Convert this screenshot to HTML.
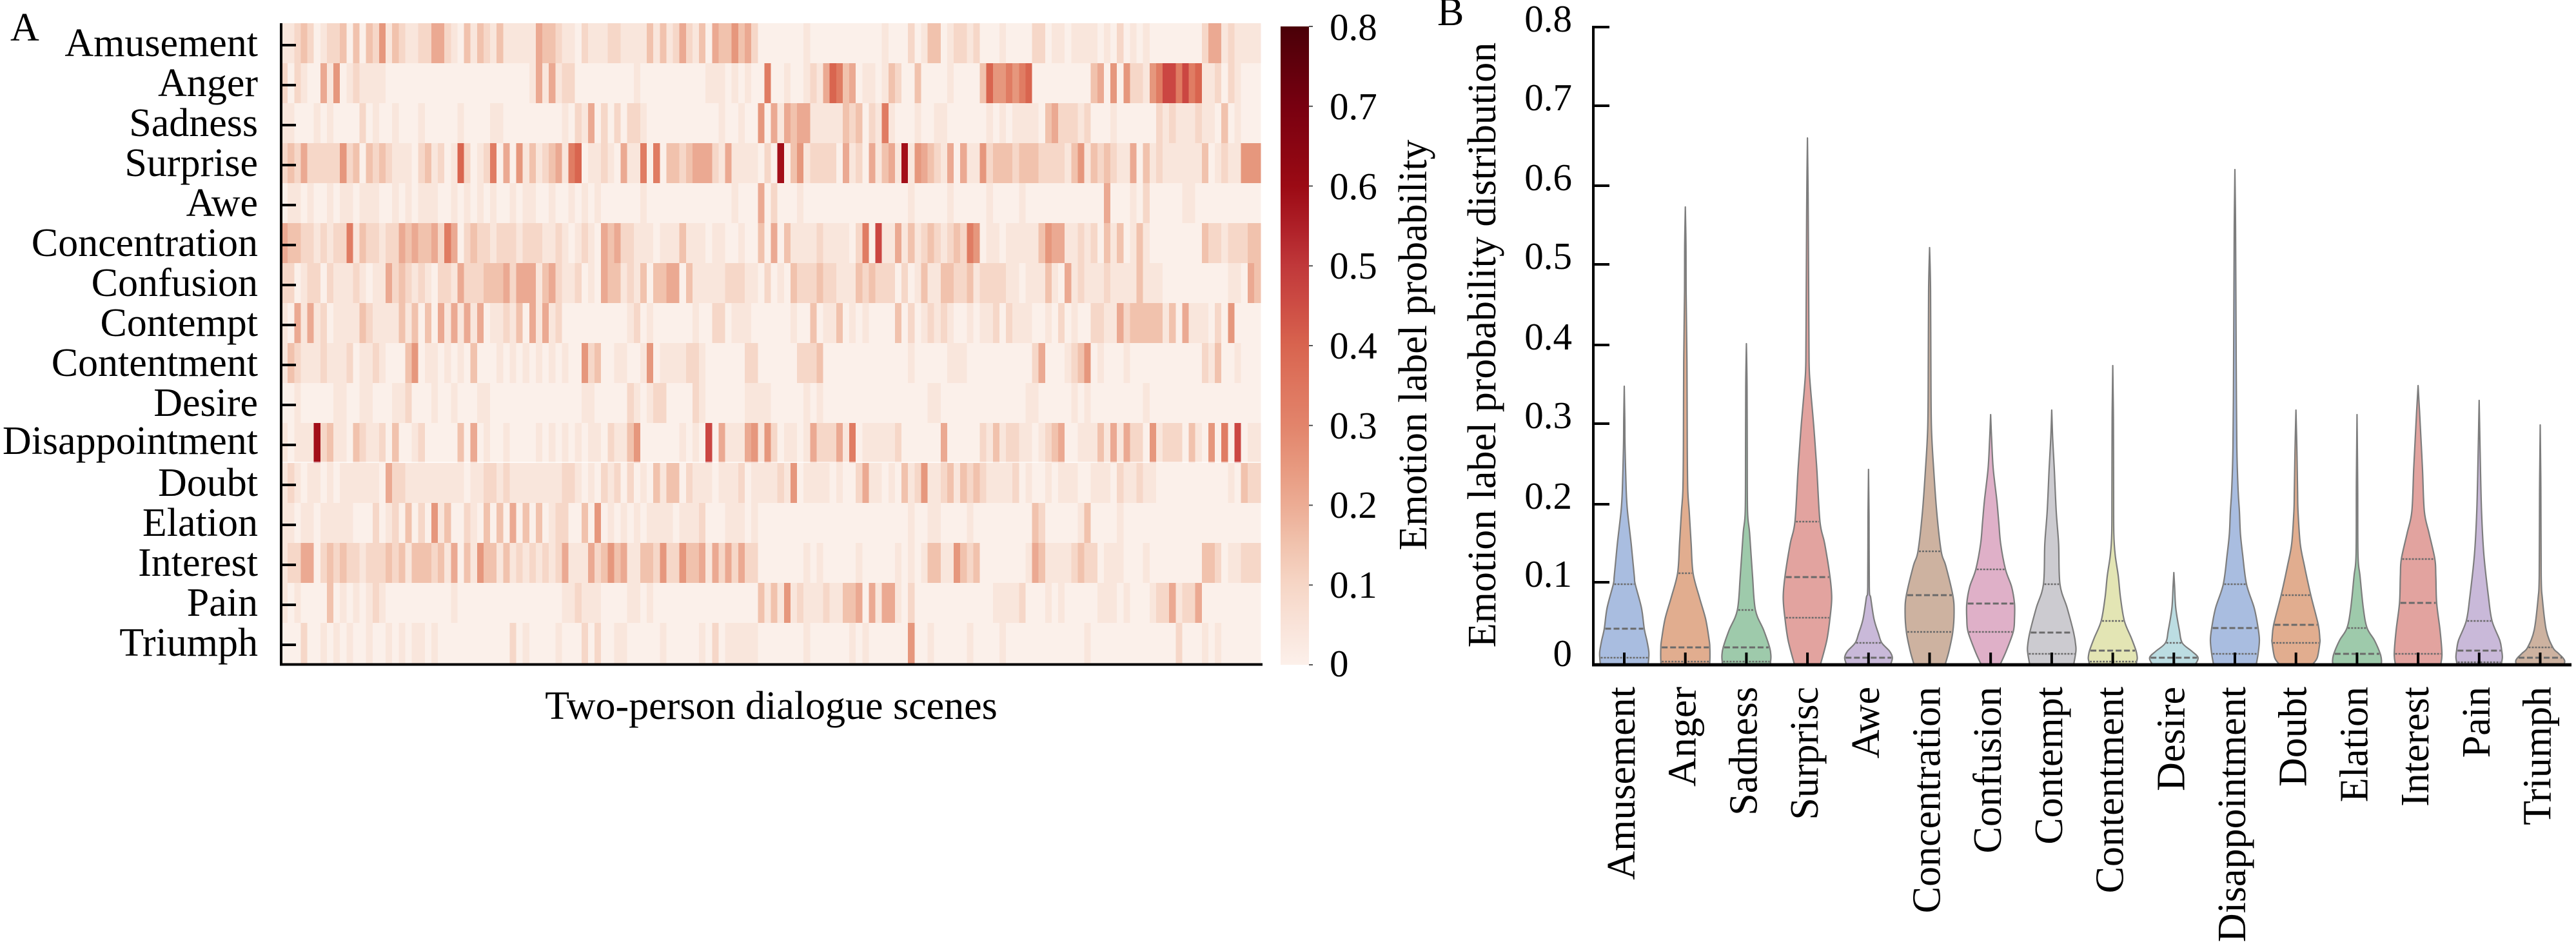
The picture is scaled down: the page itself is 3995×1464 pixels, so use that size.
<!DOCTYPE html>
<html><head><meta charset="utf-8"><style>
html,body{margin:0;padding:0;background:#fff;}
svg{display:block;}
text{font-family:"Liberation Serif","Times New Roman",serif;fill:#000;}
</style></head><body>
<svg id="s" xmlns="http://www.w3.org/2000/svg" width="3995" height="1464" viewBox="0 0 3995 1464">
<defs>
<linearGradient id="cb" x1="0" y1="1" x2="0" y2="0">
<stop offset="0" stop-color="#fcf0ea"/>
<stop offset="0.0625" stop-color="#f9e3d9"/>
<stop offset="0.125" stop-color="#f6d6c6"/>
<stop offset="0.1875" stop-color="#f1c3ae"/>
<stop offset="0.25" stop-color="#ecac94"/>
<stop offset="0.3125" stop-color="#e7987e"/>
<stop offset="0.375" stop-color="#e2846b"/>
<stop offset="0.4375" stop-color="#de755e"/>
<stop offset="0.5" stop-color="#d8644f"/>
<stop offset="0.5625" stop-color="#cd4d44"/>
<stop offset="0.625" stop-color="#c0383a"/>
<stop offset="0.6875" stop-color="#ae1f27"/>
<stop offset="0.75" stop-color="#9b0a14"/>
<stop offset="0.875" stop-color="#780010"/>
<stop offset="1" stop-color="#4a0008"/>
</linearGradient>
</defs>

<!-- Panel A heatmap -->
<g id="hm" shape-rendering="crispEdges"></g>
<line x1="436" y1="717" x2="1955" y2="717" stroke="#ffffff" stroke-width="1.5" opacity="0.85"/>
<g id="hmticks" stroke="#000" stroke-width="4"></g>
<line x1="436" y1="36" x2="436" y2="1032" stroke="#000" stroke-width="4"/>
<line x1="434" y1="1030.5" x2="1958" y2="1030.5" stroke="#000" stroke-width="4"/>

<text x="16" y="63" font-size="62">A</text>
<g font-size="62" text-anchor="end">
<text x="400" y="87">Amusement</text>
<text x="400" y="149">Anger</text>
<text x="400" y="211">Sadness</text>
<text x="400" y="273">Surprise</text>
<text x="400" y="335">Awe</text>
<text x="400" y="397">Concentration</text>
<text x="400" y="459">Confusion</text>
<text x="400" y="521">Contempt</text>
<text x="400" y="583">Contentment</text>
<text x="400" y="645">Desire</text>
<text x="400" y="704">Disappointment</text>
<text x="400" y="769">Doubt</text>
<text x="400" y="831">Elation</text>
<text x="400" y="893">Interest</text>
<text x="400" y="955">Pain</text>
<text x="400" y="1017">Triumph</text>
</g>
<text x="1196" y="1115" font-size="62" text-anchor="middle">Two-person dialogue scenes</text>

<!-- colorbar -->
<rect x="1986" y="41" width="44" height="990" fill="url(#cb)"/>
<g stroke="#555" stroke-width="2">
<line x1="2030" y1="1031" x2="2036" y2="1031"/>
<line x1="2030" y1="907.3" x2="2036" y2="907.3"/>
<line x1="2030" y1="783.5" x2="2036" y2="783.5"/>
<line x1="2030" y1="659.8" x2="2036" y2="659.8"/>
<line x1="2030" y1="536" x2="2036" y2="536"/>
<line x1="2030" y1="412.3" x2="2036" y2="412.3"/>
<line x1="2030" y1="288.5" x2="2036" y2="288.5"/>
<line x1="2030" y1="164.8" x2="2036" y2="164.8"/>
<line x1="2030" y1="41" x2="2036" y2="41"/>
</g>
<g font-size="59">
<text x="2062" y="1049">0</text>
<text x="2062" y="927">0.1</text>
<text x="2062" y="803">0.2</text>
<text x="2062" y="680">0.3</text>
<text x="2062" y="556">0.4</text>
<text x="2062" y="432">0.5</text>
<text x="2062" y="309">0.6</text>
<text x="2062" y="185">0.7</text>
<text x="2062" y="62">0.8</text>
</g>
<text transform="translate(2212,535) rotate(-90)" font-size="62" text-anchor="middle">Emotion label probability</text>

<!-- Panel B violins -->
<text x="2229" y="39" font-size="62">B</text>
<text transform="translate(2319,535) rotate(-90)" font-size="62" text-anchor="middle">Emotion label probability distribution</text>
<g id="vio"></g>
<g font-size="59" text-anchor="end">
<text x="2438" y="1033">0</text>
<text x="2438" y="910">0.1</text>
<text x="2438" y="789">0.2</text>
<text x="2438" y="664">0.3</text>
<text x="2438" y="542">0.4</text>
<text x="2438" y="417">0.5</text>
<text x="2438" y="295">0.6</text>
<text x="2438" y="171">0.7</text>
<text x="2438" y="49">0.8</text>
</g>
<g stroke="#000" stroke-width="4">
<line x1="2471" y1="903" x2="2496" y2="903"/>
<line x1="2471" y1="782" x2="2496" y2="782"/>
<line x1="2471" y1="657" x2="2496" y2="657"/>
<line x1="2471" y1="535" x2="2496" y2="535"/>
<line x1="2471" y1="410" x2="2496" y2="410"/>
<line x1="2471" y1="288" x2="2496" y2="288"/>
<line x1="2471" y1="164" x2="2496" y2="164"/>
<line x1="2471" y1="42" x2="2496" y2="42"/>
</g>
<g id="vticks" stroke="#000" stroke-width="4"></g>
<line x1="2471" y1="40" x2="2471" y2="1033" stroke="#000" stroke-width="4"/>
<line x1="2469" y1="1031" x2="3988" y2="1031" stroke="#000" stroke-width="5"/>
<g font-size="62" text-anchor="end">
<text transform="translate(2535,1065) rotate(-90)">Amusement</text>
<text transform="translate(2629.7,1065) rotate(-90)">Anger</text>
<text transform="translate(2724.4,1065) rotate(-90)">Sadness</text>
<text transform="translate(2819.1,1065) rotate(-90)">Surprisc</text>
<text transform="translate(2913.8,1065) rotate(-90)">Awe</text>
<text transform="translate(3008.5,1065) rotate(-90)">Concentration</text>
<text transform="translate(3103.2,1065) rotate(-90)">Confusion</text>
<text transform="translate(3197.9,1065) rotate(-90)">Contempt</text>
<text transform="translate(3292.6,1065) rotate(-90)">Contentment</text>
<text transform="translate(3387.3,1065) rotate(-90)">Desire</text>
<text transform="translate(3482,1065) rotate(-90)">Disappointment</text>
<text transform="translate(3576.7,1065) rotate(-90)">Doubt</text>
<text transform="translate(3671.4,1065) rotate(-90)">Elation</text>
<text transform="translate(3766.1,1065) rotate(-90)">Interest</text>
<text transform="translate(3860.8,1065) rotate(-90)">Pain</text>
<text transform="translate(3955.5,1065) rotate(-90)">Triumph</text>
</g>
</svg>
<script>
(function(){
var NS="http://www.w3.org/2000/svg";
function el(tag,attrs,parent){var e=document.createElementNS(NS,tag);for(var k in attrs)e.setAttribute(k,attrs[k]);parent.appendChild(e);return e;}
var R=[
["1123201223","0303251321","1224421031","3213111114","33211021112","2111131312","4213043353","4200000001","0000000000","0100020133","0122120001","0000220110","1111010201","0100000000","244121111"],
["2021004150","1211110000","0000000000","0000000014","14122000000","0001000000","0000111010","1006001001","2147634011","0132003000","0100003755","6567000000","0003405052","2156886867","112021000"],
["1100010100","0020100100","0100000100","0011000000","00010214020","2022100000","0000001001","0050414344","1111132302","1610001001","1000000101","0111103422","2120001000","0002121112","110301000"],
["2324222225","2303232111","0231201720","1260405131","23416701121","0411606033","2344421411","1102090351","2222041204","1341915432","1404115233","3233322221","3513232114","0312111111","301211555"],
["0110100101","1011100101","0111001010","1010010110","01001010100","0000100000","0000000010","0040200010","0000000000","0000010000","0100000100","0010000000","0000040001","0200000110","000000000"],
["4332212122","6132212243","4334264023","2212221222","11210121043","4221110111","3111011001","0030403111","1211110260","8114131232","1232650110","1111135441","1212031301","3100000000","322122233"],
["2201220211","1210114232","1210221422","2333424441","34211201043","3121303344","0311111222","1102010322","2322111323","2220201311","3322312222","1101113104","1211121111","3111000000","000011043"],
["1041412011","1132111131","3030414141","4011213041","41200000000","0012010000","0010022011","1000000100","3011301010","0003020121","2100101120","2111001020","1002211423","3333130411","102050000"],
["1321112111","2011210003","5011010103","0001010101","01010052300","1100150111","1221000000","2200000022","2300000000","0000010000","0111000000","0000240001","2350100010","0000000000","213001000"],
["0010000011","0011000112","0001001000","1100000000","00000011000","0021012200","0021000000","1111000001","0100000000","0000000011","0000000000","0001100000","1010000000","0100000000","000000000"],
["1011192311","0321120300","1200000304","0100100001","01010101102","1135000000","1010804111","4515201101","4222416011","1112000000","4000002131","2211012340","0111314142","2051222031","050608011"],
["1210110101","1111104221","1111111101","1221211111","11122101021","2020103133","0211101112","0111121501","1110100241","1010312511","2313232111","1201001011","1001110211","2110000000","000010322"],
["1101101111","1000201203","0205130021","0303040303","01220030501","0101011110","1112000111","0100000000","0000000000","0000010011","0000100000","0000320000","0130000100","0000000000","000000000"],
["1224402323","2212223231","3332314031","5331312121","21241114235","3411332522","5334142424","2200000001","0100000100","0001010133","1153230000","0001431111","2322011100","0100000000","332011222"],
["1010000301","0101210000","0000001000","0000000000","00011211100","0011010000","0000000000","0031315121","1121133404","1441020000","0000000011","1120001010","0000111010","0012241224","000000000"],
["0002001010","1001001010","1101000000","0000020100","00100020200","1100000100","0001020111","1100000001","0000001010","0000050010","0000100001","0000000000","0010000000","0000002000","101000000"]
];
var C=["#fbf0ea","#f9e6dc","#f6d7c8","#f1c2ad","#eba992","#e6977d","#e07c63","#d9654f","#cb4642","#a30f19"];
var hm=document.getElementById("hm");
var x0=436,X1=1955,y0=36,h=62;
for(var i=0;i<R.length;i++){
  var r=R[i].join("");var n=r.length;var w=(X1-x0)/n;
  for(var j=0;j<n;j++){
    el("rect",{x:(x0+j*w).toFixed(2),y:y0+i*h,width:(w+0.7).toFixed(2),height:h+0.6,fill:C[+r[j]]},hm);
  }
}
var ht=document.getElementById("hmticks");
for(var i=0;i<16;i++){var ty=70+62*i;el("line",{x1:436,y1:ty,x2:459,y2:ty},ht);}

var V=[
{c:"#a9bde0",p:[[599,0],[650,0.8],[693,1.2],[760,3],[793,5],[843,10.7],[893,15.5],[906,17],[943,26.7],[975,31],[993,35],[1010,38],[1020,38],[1031,37]],q:[906,975,1020]},
{c:"#e1ad8f",p:[[321,0],[380,1],[450,1.2],[560,2.5],[693,3],[760,3.8],[793,6],[843,9],[889,12],[927,22],[960,31.5],[993,37],[1004,38],[1026,38],[1031,37]],q:[889,1004,1026]},
{c:"#9ecaab",p:[[533,0],[600,1],[700,1.3],[793,1.8],[827,5],[893,9.5],[946,14],[977,26.7],[1004,36],[1017,38],[1026,37.5],[1031,37]],q:[946,1004,1026]},
{c:"#e2a39f",p:[[214,0],[300,1],[380,1.5],[473,2],[560,2.5],[593,4],[660,9.7],[727,14.5],[809,19.4],[843,26.7],[895,35],[927,37.6],[958,35],[993,30],[1031,20]],q:[809,895,958]},
{c:"#c9b9d9",p:[[728,0],[800,0.8],[910,1.2],[927,3.4],[960,8.5],[983,15.5],[997,20.6],[1010,32.7],[1020,37],[1031,34]],q:[997,1020]},
{c:"#cdb2a0",p:[[384,0],[450,1.5],[560,2],[660,2.8],[727,6.3],[793,11],[855,18],[877,25],[923,36],[950,38],[980,36],[1010,30],[1031,24]],q:[855,923,980]},
{c:"#dfb0c8",p:[[643,0],[680,1.5],[727,4],[777,9.7],[810,12.6],[843,15.5],[883,23],[910,32.5],[936,37],[960,37],[980,35],[1010,24],[1031,14.5]],q:[883,936,980]},
{c:"#cccbd0",p:[[636,0],[680,1.5],[727,4],[793,7],[843,10.7],[906,12.8],[943,24],[981,34],[1003,37.5],[1014,37],[1031,34]],q:[906,981,1014]},
{c:"#e3e5b4",p:[[567,0],[650,1],[760,1.3],[827,1.6],[860,3.7],[893,8.5],[927,12],[963,18],[990,29],[1009,36],[1020,38],[1026,37],[1031,36]],q:[963,1009,1026]},
{c:"#bcdde2",p:[[888,0],[910,1.2],[943,3],[977,8.5],[997,13],[1010,28],[1020,37.6],[1031,33]],q:[997,1020]},
{c:"#a9bde0",p:[[263,0],[350,1],[450,1.5],[560,2],[693,3],[760,5],[793,7],[827,8.5],[860,12],[906,18],[943,30],[974,36],[993,38],[1014,36],[1031,33]],q:[906,974,1014]},
{c:"#e1ad8f",p:[[636,0],[700,1.5],[760,2.5],[793,3.2],[843,6.6],[877,13],[923,23],[969,34.6],[990,37],[997,37],[1020,33],[1031,25]],q:[923,969,997]},
{c:"#9ecaab",p:[[643,0],[750,1],[860,1.5],[893,4.6],[943,9.7],[974,15.6],[993,27],[1014,36],[1025,38],[1031,37]],q:[974,1014]},
{c:"#e2a39f",p:[[598,0],[630,1.8],[660,3.4],[727,6.8],[793,9.7],[827,17],[867,26],[893,27.5],[935,28.8],[977,34],[1014,37],[1031,35]],q:[867,935,1014]},
{c:"#c9b9d9",p:[[621,0],[700,1.5],[793,3.7],[860,7.3],[927,14.6],[963,20],[993,32],[1009,35],[1020,36],[1031,34]],q:[963,1009,1027]},
{c:"#cdb2a0",p:[[659,0],[760,1],[893,1.5],[927,3.2],[977,9.3],[1004,19.5],[1013,28],[1020,35],[1025,38],[1031,37]],q:[1004,1020]}
];
function f(v){return v.toFixed(1);}
function cr(P){
  var d="";
  for(var i=0;i<P.length-1;i++){
    var p0=P[Math.max(i-1,0)],p1=P[i],p2=P[i+1],p3=P[Math.min(i+2,P.length-1)];
    var c1=[p1[0]+(p2[0]-p0[0])/6,p1[1]+(p2[1]-p0[1])/6];
    var c2=[p2[0]-(p3[0]-p1[0])/6,p2[1]-(p3[1]-p1[1])/6];
    d+=" C"+f(c1[0])+","+f(c1[1])+" "+f(c2[0])+","+f(c2[1])+" "+f(p2[0])+","+f(p2[1]);
  }
  return d;
}
function hwAt(p,y){
  for(var i=0;i<p.length-1;i++){
    if(y>=p[i][0]&&y<=p[i+1][0]){var t=(y-p[i][0])/(p[i+1][0]-p[i][0]);return p[i][1]+t*(p[i+1][1]-p[i][1]);}
  }
  return p[p.length-1][1];
}
var vg=document.getElementById("vio"),vt=document.getElementById("vticks");
for(var k=0;k<V.length;k++){
  var cx=2519+k*94.7,v=V[k];
  var Rt=v.p.map(function(a){return [cx+a[1],a[0]];});
  var Lt=v.p.slice().reverse().map(function(a){return [cx-a[1],a[0]];});
  var d="M"+f(Rt[0][0])+","+f(Rt[0][1])+cr(Rt)+" L"+f(Lt[0][0])+","+f(Lt[0][1])+cr(Lt)+"Z";
  el("path",{d:d,fill:v.c,stroke:"#7d7d7d","stroke-width":"2.2","stroke-linejoin":"round"},vg);
  var q=v.q;
  for(var m=0;m<q.length;m++){
    var hw=Math.max(hwAt(v.p,q[m])-1.5,1);
    var isMed=(q.length===3&&m===1)||(q.length===2&&m===1);
    el("line",{x1:f(cx-hw),y1:q[m],x2:f(cx+hw),y2:q[m],stroke:"#6a6a6a","stroke-width":isMed?"3":"2.6","stroke-dasharray":isMed?"9 4":"3 2"},vg);
  }
  el("line",{x1:f(cx),y1:1012,x2:f(cx),y2:1031},vt);
}
})();
</script>
</body></html>
